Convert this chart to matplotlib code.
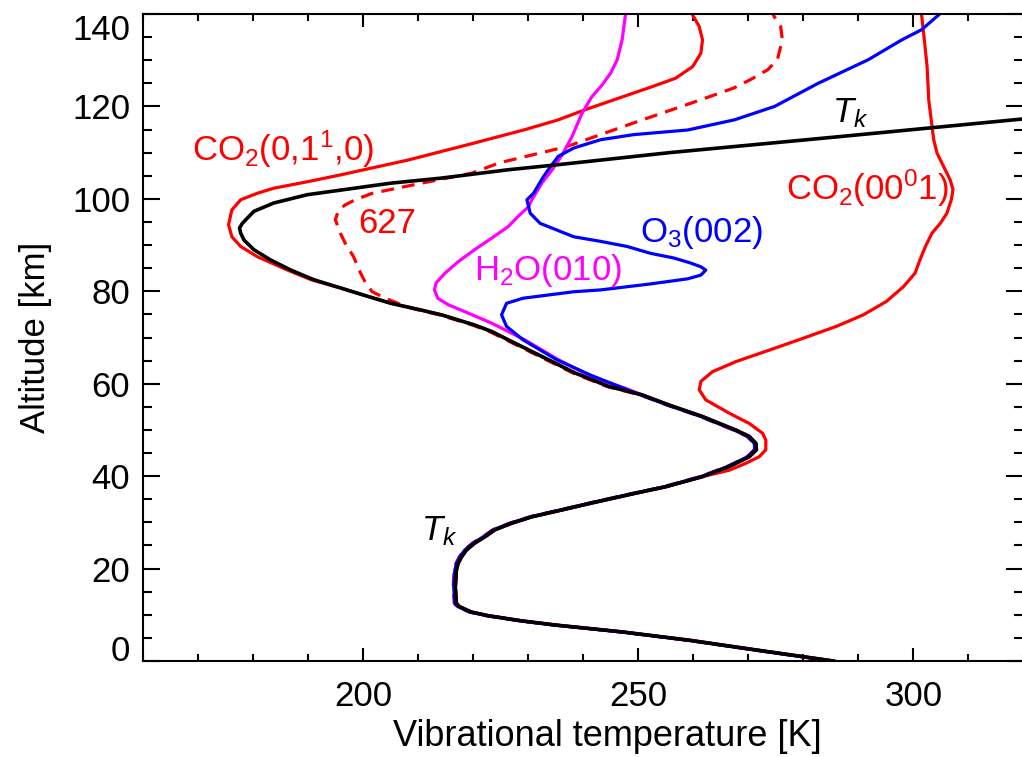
import matplotlib
matplotlib.use('Agg')
import matplotlib.pyplot as plt
import numpy as np

plt.rcParams['font.family'] = ['Liberation Sans', 'DejaVu Sans']
plt.rcParams['mathtext.fontset'] = 'custom'
plt.rcParams['mathtext.rm'] = 'Liberation Sans'
plt.rcParams['mathtext.it'] = 'Liberation Sans:italic'
plt.rcParams['font.size'] = 25
plt.rcParams['lines.solid_joinstyle'] = 'round'
plt.rcParams['lines.dash_joinstyle'] = 'round'

# Kinetic temperature profile (altitude in km, temperature in K)
tk_z = [0, 2.4, 4.5, 6.3, 7.8, 8.7, 9.8, 10.6, 11.8, 12.5, 16.0, 19.7, 21.1, 22.5,
        24.0, 25.5, 26.9, 28.4, 29.8, 31.2, 32.7, 34.2, 36.3, 37.7, 39.9, 42.1,
        44.2, 45.7, 47.1, 48.6, 50.0, 52.9, 55.4, 57.6, 59.4, 62.3, 65.9, 69.5,
        71.3, 72.7, 74.9, 76.1, 77.4, 78.9, 80.7, 82.5, 84.6, 86.8, 89.0, 91.1,
        92.6, 93.7, 94.7, 97.3, 99.1, 100.9, 101.9, 103.4, 104.5, 106.3, 107.4,
        110.0, 113.4, 117.3, 118.0]
tk_T = [285.5, 271.4, 259.3, 247.1, 234.9, 228.8, 222.8, 219.7, 217.5, 217.0,
        216.8, 217.0, 217.3, 217.9, 218.8, 220.3, 222.2, 224.0, 227.0, 230.7,
        236.2, 241.6, 249.5, 255.0, 261.7, 266.6, 270.2, 271.5, 271.4, 270.2,
        267.7, 261.7, 255.6, 250.7, 244.7, 238.6, 232.5, 226.4, 223.4, 220.3,
        214.3, 210.0, 205.1, 200.9, 196.0, 191.1, 186.9, 183.2, 180.2, 178.4,
        177.8, 177.6, 178.1, 180.2, 183.8, 189.9, 196.0, 205.1, 214.3, 226.4,
        235.5, 255.7, 286.0, 320.0, 326.0]

# CO2(0,1^1,0), main isotope, above 82 km (equal to Tk below)
co2_010_z = [82.5, 84.6, 87.5, 89.7, 91.8, 94.4, 97.6, 99.8, 101.2, 102.3, 103.7,
             105.2, 108.4, 112.1, 115.0, 117.1, 119.3, 121.8, 124.3, 126.1, 128.6,
             131.5, 134.4, 137.3, 139.8, 141.0]
co2_010_T = [190.6, 186.3, 180.8, 177.8, 176.2, 175.6, 176.2, 177.8, 180.8, 183.8,
             189.9, 196.0, 208.2, 220.3, 229.5, 235.5, 240.4, 246.5, 252.6, 256.8,
             259.9, 261.4, 261.7, 261.1, 259.9, 259.4]

# CO2(0,1^1,0), isotope 627, above 76 km
co2_627_z = [76.7, 78.5, 79.9, 81.8, 83.9, 87.5, 90.4, 92.6, 95.5, 97.6, 98.7,
             99.8, 101.2, 102.7, 105.6, 107.8, 111.3, 116.4, 121.4, 124.0, 125.8,
             127.9, 130.1, 134.4, 137.3, 139.5, 141.0]
co2_627_T = [208.2, 204.5, 202.1, 200.9, 200.0, 198.7, 197.2, 196.3, 195.4, 196.0,
             197.2, 199.0, 202.1, 208.2, 220.3, 225.2, 237.4, 249.5, 261.7, 267.8,
             270.8, 273.9, 275.7, 276.6, 276.3, 275.1, 274.5]

# CO2(00^01) above 41 km
co2_001_z = [41.3, 42.8, 44.2, 45.7, 47.8, 49.3, 51.4, 53.6, 56.5, 58.7, 60.5,
             62.6, 64.8, 67.3, 69.8, 72.4, 74.9, 77.8, 81.0, 83.9, 86.8, 89.7,
             92.6, 94.7, 96.9, 99.8, 102.0, 104.1, 107.0, 109.9, 112.8, 115.6,
             121.4, 128.6, 134.4, 139.8, 141.0]
co2_001_T = [266.6, 269.6, 272.0, 273.2, 273.2, 272.6, 270.2, 266.6, 262.3, 261.1,
             261.4, 263.5, 267.8, 273.9, 279.9, 286.0, 290.9, 295.1, 298.2, 300.3,
             301.2, 302.2, 303.4, 304.9, 306.1, 306.9, 307.2, 306.7, 305.5, 304.3,
             303.7, 303.4, 302.8, 302.5, 302.0, 301.5, 301.4]

# H2O(010) above 59 km
h2o_z = [59.0, 61.5, 65.2, 69.5, 73.1, 75.3, 77.1, 78.5, 80.3, 81.8, 83.9, 86.4,
         89.0, 91.5, 94.0, 96.2, 98.3, 99.8, 103.4, 106.3, 109.5, 113.5, 118.5,
         122.1, 124.7, 127.2, 130.1, 134.4, 139.8, 141.0]
h2o_T = [247.7, 241.6, 235.5, 229.4, 223.4, 219.1, 215.5, 213.6, 213.0, 213.3,
         214.9, 217.3, 220.3, 223.4, 226.4, 228.2, 230.1, 230.7, 232.5, 234.4,
         236.2, 238.0, 239.8, 241.6, 243.5, 245.0, 246.2, 247.1, 247.7, 247.8]

# O3(002) above 59 km
o3_z = [59.0, 61.9, 65.2, 67.3, 69.5, 72.4, 74.9, 77.4, 78.5, 79.9, 80.3, 81.6,
        82.7, 83.5, 84.6, 85.3, 86.1, 87.2, 88.2, 89.7, 90.8, 91.8, 94.7, 96.9,
        99.8, 101.2, 104.8, 107.0, 109.2, 111.0, 112.8, 113.9, 114.9, 117.1,
        120.0, 125.0, 130.1, 134.4, 136.6, 139.8, 141.0]
o3_T = [247.7, 241.6, 235.5, 232.5, 229.4, 226.4, 225.5, 226.4, 229.4, 238.6,
        243.5, 252.6, 259.3, 261.7, 262.6, 261.7, 259.9, 256.8, 252.6, 248.3,
        243.5, 238.6, 232.5, 230.7, 230.1, 231.3, 233.1, 234.4, 235.8, 238.6,
        243.5, 249.5, 259.3, 267.8, 275.1, 283.0, 292.1, 298.2, 301.8, 304.9,
        306.0]

tk_z = np.array(tk_z)
tk_T = np.array(tk_T)


def with_tk_below(z, T):
    # the excited states follow the kinetic temperature at low altitudes
    low = tk_z < z[0]
    return np.concatenate([tk_T[low], T]), np.concatenate([tk_z[low], z])


fig = plt.figure(figsize=(10.22, 7.57), dpi=100)
ax = fig.add_axes([0.1396, 0.1268, 0.8618, 0.8547])

lw = 2.3
T, z = with_tk_below(co2_627_z, co2_627_T)
ax.plot(T - 0.4, z, color='red', lw=lw, linestyle=(0, (4, 2.6)))
T, z = with_tk_below(co2_010_z, co2_010_T)
ax.plot(T, z, color='red', lw=lw)
T, z = with_tk_below(co2_001_z, co2_001_T)
ax.plot(T, z, color='red', lw=lw)
T, z = with_tk_below(h2o_z, h2o_T)
ax.plot(T, z, color='#ff00ff', lw=lw)
T, z = with_tk_below(o3_z, o3_T)
ax.plot(T - 0.3, z, color='blue', lw=lw)
ax.plot(tk_T, tk_z, color='black', lw=2.6)

# curve labels
ax.text(169.0, 108.2, 'CO$_2$(0,1$^1$,0)', color='red')
ax.text(199.1, 92.6, '627', color='red')
ax.text(220.1, 82.5, 'H$_2$O(010)', color='#ff00ff')
ax.text(250.4, 90.7, 'O$_3$(002)', color='blue')
ax.text(276.8, 99.8, 'CO$_2$(00$^0$1)', color='red')
ax.text(285.2, 116.5, '$T_k$', color='black')
ax.text(210.6, 26.2, '$T_k$', color='black')

ax.set_xlim(160, 320)
ax.set_ylim(0, 140)
ax.set_xticks([200, 250, 300])
ax.set_xticks(np.arange(160, 321, 10), minor=True)
ax.set_yticks(np.arange(0, 141, 20))
ax.set_yticks(np.arange(0, 141, 5), minor=True)

ax.tick_params(which='both', direction='in', top=True, right=True, width=1.5)
ax.tick_params(axis='x', which='major', length=9.5, pad=14)
ax.tick_params(axis='x', which='minor', length=5)
ax.tick_params(axis='y', which='major', length=12, pad=9)
ax.tick_params(axis='y', which='minor', length=6.5)
for s in ax.spines.values():
    s.set_linewidth(1.5)

# keep the end labels of the altitude axis inside the frame
ylabels = ax.get_yticklabels()
ylabels[0].set_verticalalignment('baseline')
ylabels[-1].set_verticalalignment('top')

ax.set_xlabel('Vibrational temperature [K]', fontsize=26)
ax.set_ylabel('Altitude [km]')
ax.xaxis.set_label_coords(0.528, -0.09)
ax.yaxis.set_label_coords(-0.103, 0.5)

fig.savefig('out.png', dpi=100)
